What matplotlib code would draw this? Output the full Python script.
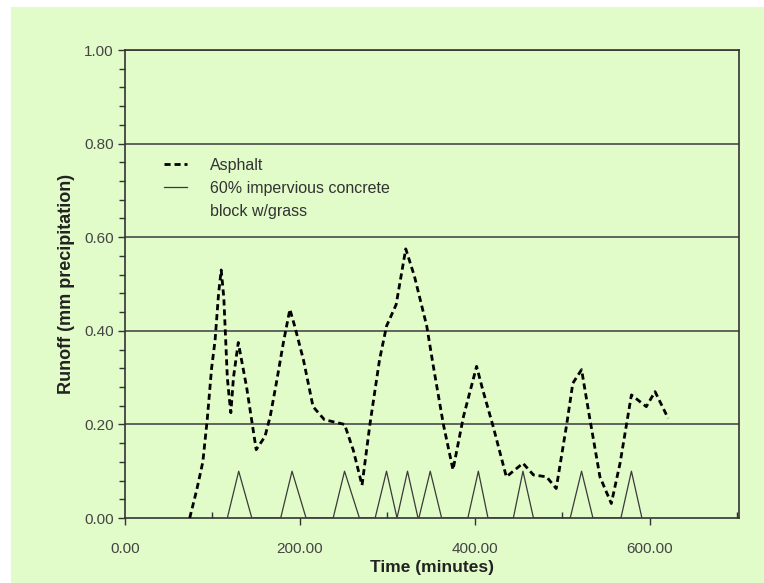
import matplotlib
matplotlib.use("Agg")
import matplotlib.pyplot as plt
from matplotlib.ticker import MultipleLocator, FormatStrFormatter
from matplotlib.patches import Rectangle
from matplotlib.lines import Line2D

# Data
asphalt_t = [74, 82, 89, 94, 99, 103, 107, 110, 113, 117, 119, 121, 124, 129.5, 139, 150,
             160, 166, 173, 181, 188.5, 194, 204, 215, 228, 251, 261, 271, 280, 291, 299,
             310, 321, 331, 345, 352, 364, 375, 387, 402, 409, 421, 436, 455, 467, 482,
             493, 505, 512, 522, 531, 543, 556, 566, 579, 596, 606, 621]
asphalt_v = [0.00, 0.06, 0.12, 0.21, 0.32, 0.38, 0.48, 0.53, 0.47, 0.30, 0.26, 0.225, 0.30,
             0.375, 0.28, 0.146, 0.174, 0.217, 0.288, 0.374, 0.446, 0.41, 0.338, 0.238,
             0.21, 0.20, 0.145, 0.07, 0.20, 0.338, 0.41, 0.456, 0.575, 0.516, 0.41, 0.33,
             0.20, 0.103, 0.217, 0.324, 0.274, 0.195, 0.088, 0.117, 0.092, 0.088, 0.063,
             0.20, 0.288, 0.317, 0.217, 0.088, 0.031, 0.117, 0.263, 0.238, 0.27, 0.213]

concrete_t = [117, 130, 145, 178, 191, 207, 238, 251, 268, 286, 299, 311, 323, 335,
              336, 349, 362, 392, 404, 415, 444, 455, 467, 509, 522, 535, 567, 579, 591]
concrete_v = [0, 0.1, 0, 0, 0.1, 0, 0, 0.1, 0, 0, 0.1, 0, 0.1, 0,
              0, 0.1, 0, 0, 0.1, 0, 0, 0.1, 0, 0, 0.1, 0, 0, 0.1, 0]

legend_labels = ["Asphalt", "60% impervious concrete", "block w/grass"]
x_ticks = [0, 200, 400, 600]
y_ticks = [0.0, 0.2, 0.4, 0.6, 0.8, 1.0]

bg = "#E1FBC9"
W, H = 764, 583
fig = plt.figure(figsize=(W / 100, H / 100), dpi=100)
fig.patch.set_facecolor("white")
fig.patches.append(Rectangle((11 / W, 0), 1 - 11 / W, 1 - 7 / H, transform=fig.transFigure,
                             facecolor=bg, edgecolor="none", zorder=-10))

ax = fig.add_axes([125 / W, 1 - 518 / H, (739 - 125) / W, (518 - 50) / H])
ax.set_zorder(5)
ax.set_facecolor(bg)

l_con, = ax.plot(concrete_t, concrete_v, color="#3a3a3a", lw=0.9, zorder=3)
l_asp, = ax.plot(asphalt_t, asphalt_v, color="black", lw=2.0, ls=(0, (2.2, 1.4)), zorder=4)

ax.set_xlim(0, 702)
ax.set_ylim(0, 1.0)
ax.set_xticks(x_ticks)
ax.set_yticks(y_ticks)
ax.xaxis.set_minor_locator(MultipleLocator(100))
ax.yaxis.set_minor_locator(MultipleLocator(0.04))
ax.xaxis.set_major_formatter(FormatStrFormatter("%.2f"))
ax.yaxis.set_major_formatter(FormatStrFormatter("%.2f"))

for y in y_ticks[1:]:
    ax.axhline(y, color="#4a4a4a", lw=1.2, zorder=2)

for s in ["left", "bottom", "right", "top"]:
    ax.spines[s].set_color("#333333")
    ax.spines[s].set_linewidth(1.2)

tick_font = ["Liberation Sans Narrow", "Liberation Sans", "DejaVu Sans"]
ax.tick_params(axis="both", which="major", direction="out", length=5, width=1.0,
               colors="#333333", labelsize=11, pad=3)
ax.tick_params(axis="y", which="minor", direction="out", length=4, width=1.0, colors="#333333")
ax.tick_params(axis="x", which="minor", direction="in", length=4, width=1.0, colors="#333333")
for lab in ax.get_xticklabels() + ax.get_yticklabels():
    lab.set_family(tick_font)
    lab.set_color("#444444")
ax.tick_params(axis="x", pad=12)

ax.set_xlabel("Time (minutes)", fontsize=12.5, fontweight="bold", family=["Liberation Sans", "DejaVu Sans"],
              labelpad=3, color="#222222")
ax.set_ylabel("Runoff (mm precipitation)", fontsize=13, fontweight="bold",
              family=["Liberation Sans", "DejaVu Sans"], labelpad=7, color="#222222")

blank = Line2D([], [], color="none")
leg = ax.legend([l_asp, l_con, blank], legend_labels, loc="upper left", bbox_to_anchor=(0.04, 0.80),
                frameon=False, handlelength=1.45, handletextpad=1.45, labelspacing=0.5,
                prop={"family": ["Liberation Sans", "DejaVu Sans"], "size": 11.5})
for t in leg.get_texts():
    t.set_color("#333333")

fig.savefig("out.png", dpi=100, facecolor=fig.get_facecolor())
